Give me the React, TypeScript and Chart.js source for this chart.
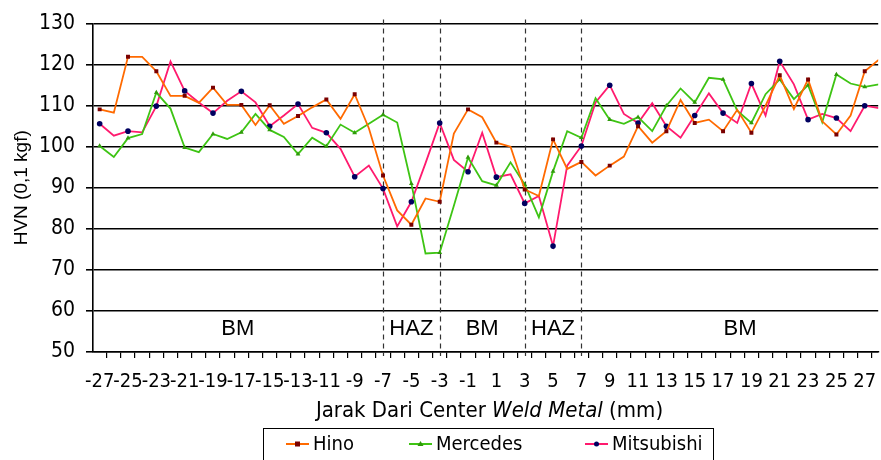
import React, { useEffect, useRef } from 'react';
import { Chart, registerables } from 'chart.js';

Chart.register(...registerables);

// ---- data ----
const distances = [
  -27, -26, -25, -24, -23, -22, -21, -20, -19, -18, -17, -16, -15, -14,
  -13, -12, -11, -10, -9, -8, -7, -6, -5, -4, -3, -2, -1, 0,
  1, 2, 3, 4, 5, 6, 7, 8, 9, 10, 11, 12, 13, 14,
  15, 16, 17, 18, 19, 20, 21, 22, 23, 24, 25, 26, 27, 28,
];

const hino = [
  109.1, 108.3, 121.9, 121.9, 118.4, 112.4, 112.4, 110.7, 114.4, 110.2, 110.2, 105.3, 110.1, 105.6,
  107.5, 109.6, 111.5, 106.8, 112.8, 104.5, 93.0, 84.5, 81.0, 87.4, 86.6, 103.2, 109.1, 107.2,
  101.0, 100.0, 89.6, 88.0, 101.8, 94.6, 96.3, 93.0, 95.4, 97.6, 105.0, 101.0, 103.8, 111.4,
  105.8, 106.6, 103.8, 109.0, 103.4, 110.0, 117.4, 109.2, 116.4, 106.2, 103.0, 107.6, 118.4, 121.2,
];

const mercedes = [
  100.2, 97.5, 102.1, 103.1, 113.2, 109.3, 99.8, 98.7, 103.1, 101.9, 103.5, 108.0, 104.1, 102.4,
  98.2, 102.2, 100.1, 105.4, 103.4, 105.6, 107.8, 105.9, 91.0, 74.0, 74.2, 85.6, 97.4, 91.6,
  90.6, 96.2, 90.8, 82.8, 94.0, 103.8, 102.2, 111.8, 106.6, 105.6, 107.2, 103.8, 110.0, 114.2,
  110.8, 116.8, 116.4, 108.8, 105.8, 112.8, 116.4, 111.6, 115.0, 106.0, 117.6, 115.4, 114.6, 115.2,
];

const mitsubishi = [
  105.6, 102.7, 103.8, 103.5, 109.9, 120.8, 113.6, 110.8, 108.2, 111.2, 113.5, 110.8, 105.0, 107.6,
  110.4, 104.6, 103.4, 99.5, 92.7, 95.4, 89.8, 80.6, 86.6, 96.0, 105.8, 96.8, 93.9, 103.4,
  92.6, 93.3, 86.2, 88.0, 75.8, 95.4, 100.2, 110.8, 115.0, 108.0, 105.8, 110.6, 105.0, 102.2,
  107.6, 113.0, 108.2, 105.8, 115.4, 107.6, 120.8, 115.2, 106.6, 108.0, 107.0, 103.8, 110.0, 109.4,
];

const xTickLabels = [
  -27, -25, -23, -21, -19, -17, -15, -13, -11, -9, -7, -5, -3, -1,
  1, 3, 5, 7, 9, 11, 13, 15, 17, 19, 21, 23, 25, 27,
];
const xTickMarks = [
  -26.5, -25.5, -24.5, -23.5, -22.5, -21.5, -20.5, -19.5, -18.5, -17.5, -16.5, -15.5, -14.5, -13.5,
  -12.5, -11.5, -10.5, -9.5, -8.5, -7.5, -6.5, -5.5, -4.5, -3.5, -2.5, -1.5, -0.5, 0.5,
  1.5, 2.5, 3.5, 4.5, 5.5, 6.5, 7.5, 8.5, 9.5, 10.5, 11.5, 12.5, 13.5, 14.5,
  15.5, 16.5, 17.5, 18.5, 19.5, 20.5, 21.5, 22.5, 23.5, 24.5, 25.5, 26.5, 27.5,
];
const yTicks = [50, 60, 70, 80, 90, 100, 110, 120, 130];

const zoneBoundaries = [-7, -3, 3, 7];
const zoneLabels = ['BM', 'HAZ', 'BM', 'HAZ', 'BM'];
const zoneCenters = [-17.25, -5, 0, 5, 18.2];

const seriesNames = ['Hino', 'Mercedes', 'Mitsubishi'];

// ---- styles ----
const NARROW = "'Liberation Sans Narrow', 'DejaVu Sans Condensed', 'Liberation Sans', sans-serif";
const ARIAL = "'Liberation Sans', Arial, sans-serif";
const lineColors = ['#ff6a00', '#3ec414', '#ff1a6e'];
const markerColors = ['#7a0000', '#2f9a0a', '#000060'];
const markerStyles = ['rect', 'triangle', 'circle'];

const toPoints = (vals: number[]) => distances.map((d, i) => ({ x: d, y: vals[i] }));

const overlayPlugin = {
  id: 'overlay',
  beforeDatasetsDraw(chart: any) {
    const { ctx, chartArea, scales } = chart;
    const x = scales.x;
    const y = scales.y;
    ctx.save();
    ctx.setLineDash([5, 4]);
    ctx.strokeStyle = '#333';
    ctx.lineWidth = 1.2;
    zoneBoundaries.forEach((v) => {
      const px = Math.round(x.getPixelForValue(v)) + 0.5;
      ctx.beginPath();
      ctx.moveTo(px, chartArea.top - 4);
      ctx.lineTo(px, chartArea.bottom + 4);
      ctx.stroke();
    });
    ctx.setLineDash([]);
    ctx.fillStyle = '#000';
    ctx.font = `22px ${ARIAL}`;
    ctx.textAlign = 'center';
    ctx.textBaseline = 'middle';
    zoneLabels.forEach((l, i) => {
      ctx.fillText(l, x.getPixelForValue(zoneCenters[i]), y.getPixelForValue(55.7));
    });
    ctx.restore();
  },
  afterDraw(chart: any) {
    const { ctx, chartArea, scales } = chart;
    const x = scales.x;
    ctx.save();
    ctx.fillStyle = '#000';
    // y title
    ctx.font = `19px ${ARIAL}`;
    ctx.textAlign = 'center';
    ctx.textBaseline = 'middle';
    ctx.translate(22, (chartArea.top + chartArea.bottom) / 2);
    ctx.rotate(-Math.PI / 2);
    ctx.fillText('HVN (0,1 kgf)', 0, 0);
    ctx.setTransform(1, 0, 0, 1, 0, 0);

    // x title with italic part
    const cx = (chartArea.left + x.getPixelForValue(28.5)) / 2;
    const parts = [
      { t: 'Jarak Dari Center ', f: `22px ${NARROW}` },
      { t: 'Weld Metal', f: `italic 22px ${NARROW}` },
      { t: ' (mm)', f: `22px ${NARROW}` },
    ];
    let total = 0;
    parts.forEach((p) => { ctx.font = p.f; total += ctx.measureText(p.t).width; });
    let px = cx - total / 2;
    ctx.textAlign = 'left';
    ctx.textBaseline = 'middle';
    parts.forEach((p) => { ctx.font = p.f; ctx.fillText(p.t, px, 411); px += ctx.measureText(p.t).width; });

    // legend
    const boxL = 263, boxR = 713, boxT = 428.5;
    ctx.strokeStyle = '#000';
    ctx.lineWidth = 1;
    ctx.strokeRect(boxL + 0.5, boxT, boxR - boxL, 60);
    const itemX = [286, 409, 585];
    const ly = 444;
    ctx.font = `20px ${NARROW}`;
    seriesNames.forEach((name, i) => {
      const sx = itemX[i];
      ctx.strokeStyle = lineColors[i];
      ctx.lineWidth = 2;
      ctx.beginPath();
      ctx.moveTo(sx, ly);
      ctx.lineTo(sx + 23, ly);
      ctx.stroke();
      ctx.fillStyle = markerColors[i];
      const mx = sx + 11.5;
      if (markerStyles[i] === 'rect') ctx.fillRect(mx - 2.5, ly - 2.5, 5, 5);
      else if (markerStyles[i] === 'triangle') {
        ctx.beginPath(); ctx.moveTo(mx, ly - 3); ctx.lineTo(mx + 3, ly + 2); ctx.lineTo(mx - 3, ly + 2); ctx.closePath(); ctx.fill();
      } else { ctx.beginPath(); ctx.arc(mx, ly, 2.5, 0, Math.PI * 2); ctx.fill(); }
      ctx.fillStyle = '#000';
      ctx.textAlign = 'left';
      ctx.fillText(name, sx + 27, ly + 1);
    });
    ctx.restore();
  },
};

export default function App() {
  const ref = useRef<HTMLCanvasElement | null>(null);
  useEffect(() => {
    if (!ref.current) return;
    const datasets = [hino, mercedes, mitsubishi].map((vals, i) => ({
      label: seriesNames[i],
      data: toPoints(vals),
      borderColor: lineColors[i],
      backgroundColor: markerColors[i],
      borderWidth: 1.8,
      pointStyle: markerStyles[i],
      pointBackgroundColor: markerColors[i],
      pointBorderColor: markerColors[i],
      pointBorderWidth: 0,
      pointRadius: (c: any) => (distances[c.dataIndex] % 2 !== 0 ? 2.8 : 0),
      pointHoverRadius: 0,
      tension: 0,
    }));
    const chart = new Chart(ref.current, {
      type: 'line',
      data: { datasets },
      plugins: [overlayPlugin],
      options: {
        animation: false,
        responsive: false,
        maintainAspectRatio: false,
        events: [],
        layout: { padding: { top: 18, left: 0, right: 0, bottom: 40 } },
        plugins: { legend: { display: false }, tooltip: { enabled: false } },
        scales: {
          x: {
            type: 'linear',
            min: -27.47,
            max: 27.95,
            afterBuildTicks: (s: any) => {
              s.ticks = [...xTickLabels, ...xTickMarks].sort((a, b) => a - b).map((v) => ({ value: v }));
            },
            afterFit: (s: any) => { s.height = 68; s.paddingRight = 0; s.paddingLeft = 0; },
            ticks: {
              autoSkip: false,
              maxRotation: 0,
              minRotation: 0,
              padding: 12,
              color: '#000',
              font: { family: NARROW, size: 20 },
              callback: (v: any) => (Number.isInteger(v) ? String(v) : ''),
            },
            grid: {
              drawOnChartArea: false,
              tickLength: 6,
              tickColor: (c: any) => (c.tick && Number.isInteger(c.tick.value) ? 'rgba(0,0,0,0)' : '#000'),
              lineWidth: 1.2,
            },
            border: { display: true, color: '#000', width: 1.6 },
          },
          y: {
            min: 50,
            max: 130,
            afterBuildTicks: (s: any) => { s.ticks = yTicks.map((v) => ({ value: v })); },
            afterFit: (s: any) => { s.width = 93; },
            ticks: {
              padding: 11,
              color: '#000',
              font: { family: NARROW, size: 21 },
            },
            grid: { color: '#000', lineWidth: 1.6, tickLength: 7 },
            border: { display: true, color: '#000', width: 1.6 },
          },
        },
      },
    });
    return () => chart.destroy();
  }, []);
  return (
    <div style={{ position: 'absolute', left: 0, top: 0, width: 881, height: 460 }}>
      <canvas ref={ref} width={881} height={460} style={{ display: 'block' }} />
    </div>
  );
}
